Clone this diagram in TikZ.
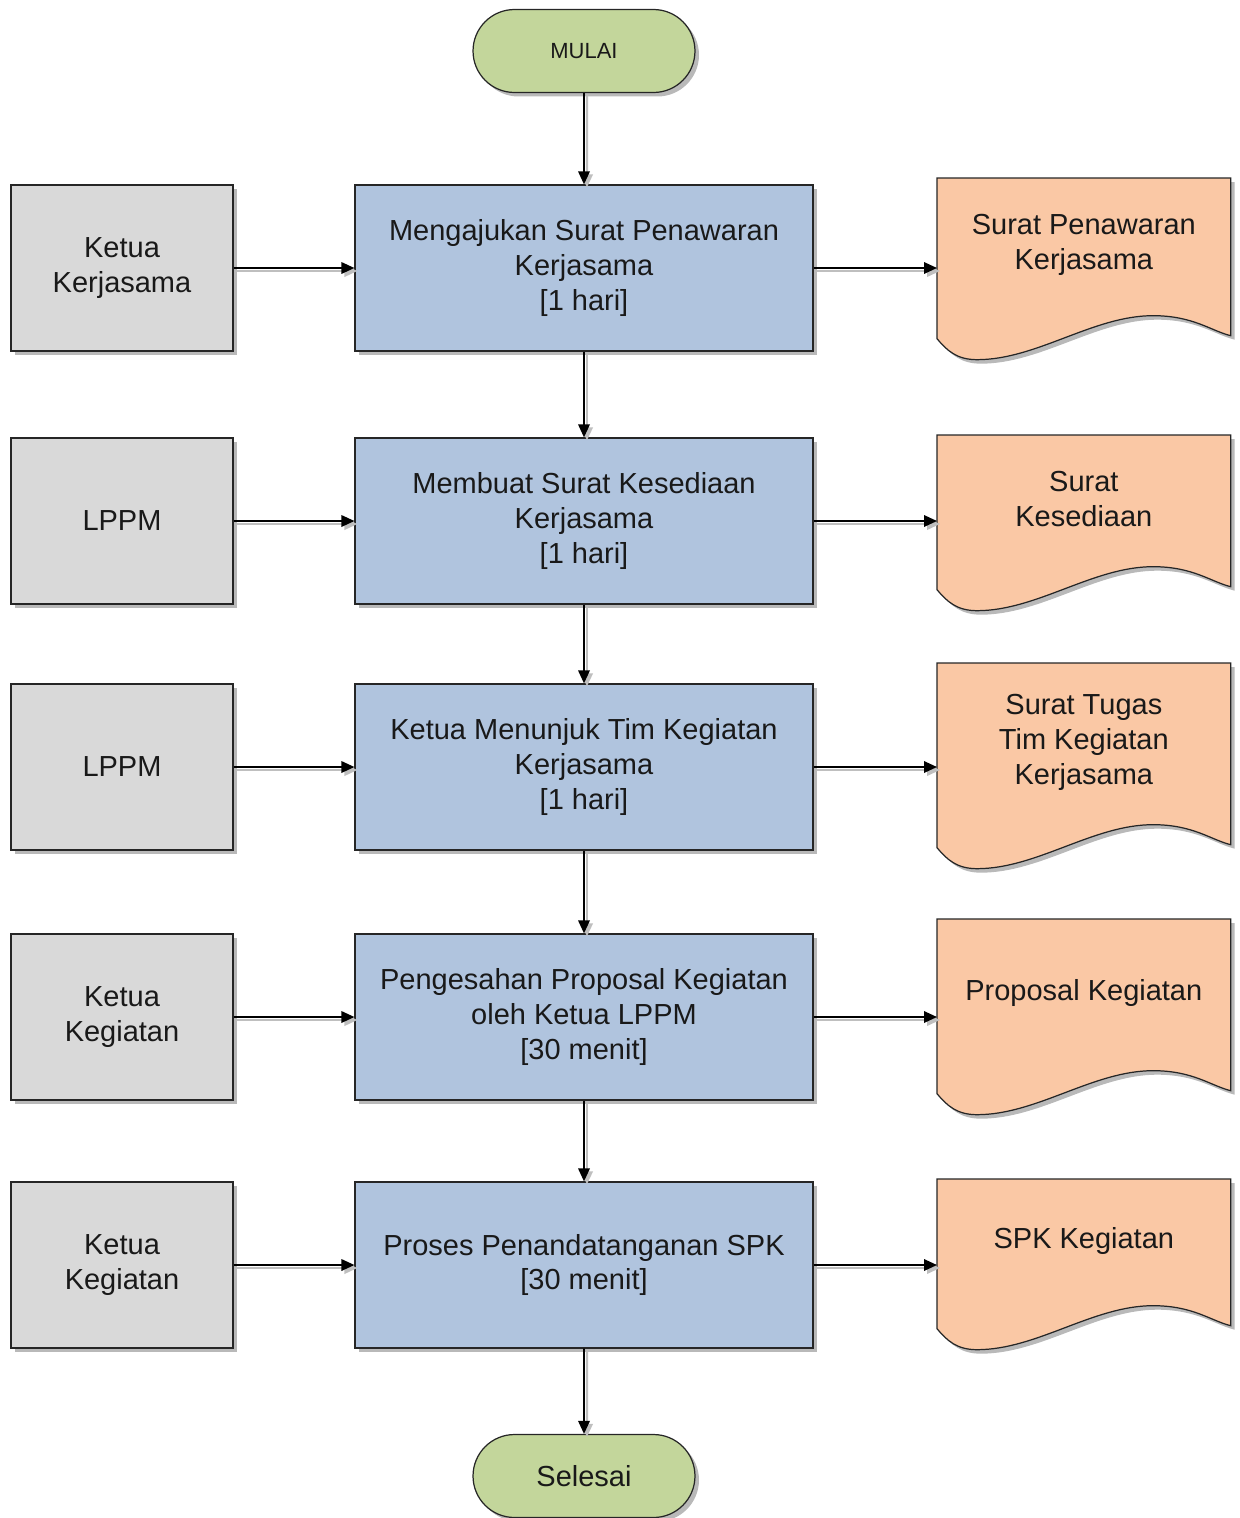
\documentclass[tikz,border=0pt]{standalone}
\usepackage{fontspec}
\setmainfont{Liberation Sans}
\usetikzlibrary{arrows.meta,calc,shadows,shapes.misc,backgrounds}

\definecolor{procblue}{RGB}{176,196,222}
\definecolor{srcgray}{RGB}{217,217,217}
\definecolor{docpeach}{RGB}{250,200,165}
\definecolor{termgreen}{RGB}{195,214,155}

\tikzset{
  boxshadow/.style={drop shadow={shadow xshift=0.08cm,shadow yshift=-0.08cm,fill=black!55,opacity=0.5}},
  box/.style={draw=black!85, line width=0.7pt, boxshadow, minimum height=3.32cm, align=center,
    inner sep=0pt, font=\fontsize{16.5}{19.9}\selectfont, text=black!90},
  procbox/.style={box, fill=procblue, minimum width=9.16cm},
  srcbox/.style={box, fill=srcgray, minimum width=4.44cm},
  term/.style={box, fill=termgreen, rounded rectangle, minimum width=4.44cm, minimum height=1.66cm},
  doctext/.style={anchor=north west, minimum width=5.86cm, align=center, inner sep=0pt,
    font=\fontsize{16.5}{19.9}\selectfont, text=black!90},
  docline/.style={draw=black!85, line width=0.7pt, fill=docpeach, boxshadow},
  flow/.style={-{Triangle[length=0.26cm,width=0.23cm]}, line width=1pt,
    preaction={draw=black!25, line width=1.3pt, transform canvas={xshift=1.7pt,yshift=-1.7pt}}}
}

% document shape drawn round a text node
\newcommand{\docoutline}[1]{%
  \path[docline] (#1.north west) -- (#1.north east) -- ($(#1.south east)+(0,23)$)
    .. controls +(-20,-5) and +(40,0) .. ($(#1.south west)+(216,3)$)
    .. controls +(-60,0) and +(60,0) .. ($(#1.south west)+(40,47)$)
    .. controls +(-20,0) and +(10,12) .. ($(#1.south west)+(0,26)$) -- cycle;}

\begin{document}
\begin{tikzpicture}[x=0.02cm, y=-0.02cm]
\useasboundingbox (0,0) rectangle (1240,1518);
\node[term, font=\fontsize{12.5}{15}\selectfont] (start) at (584,51) {MULAI};
\node[term] (finish) at (584,1476) {Selesai};

\node[srcbox] (src1) at (122,268) {Ketua\\Kerjasama};
\node[srcbox] (src2) at (122,521) {LPPM};
\node[srcbox] (src3) at (122,767) {LPPM};
\node[srcbox] (src4) at (122,1017) {Ketua\\Kegiatan};
\node[srcbox] (src5) at (122,1265) {Ketua\\Kegiatan};

\node[procbox] (p1) at (584,268) {Mengajukan Surat Penawaran\\Kerjasama\\{[1 hari]}};
\node[procbox] (p2) at (584,521) {Membuat Surat Kesediaan\\Kerjasama\\{[1 hari]}};
\node[procbox] (p3) at (584,767) {Ketua Menunjuk Tim Kegiatan\\Kerjasama\\{[1 hari]}};
\node[procbox] (p4) at (584,1017) {Pengesahan Proposal Kegiatan\\oleh Ketua LPPM\\{[30 menit]}};
\node[procbox] (p5) at (584,1265) {Proses Penandatanganan SPK\\{[30 menit]}};

\node[doctext, minimum height=2.68cm] (doc1) at (937,178) {Surat Penawaran\\Kerjasama};
\node[doctext, minimum height=2.56cm] (doc2) at (937,435) {Surat\\Kesediaan};
\node[doctext, minimum height=3.16cm] (doc3) at (937,663) {Surat Tugas\\Tim Kegiatan\\Kerjasama};
\node[doctext, minimum height=2.96cm] (doc4) at (937,919) {Proposal Kegiatan};
\node[doctext, minimum height=2.46cm] (doc5) at (937,1179) {SPK Kegiatan};

\begin{scope}[on background layer]
\foreach \i in {1,...,5} \docoutline{doc\i};
\end{scope}

\draw[flow] (start) -- (p1);
\foreach \i/\j in {1/2,2/3,3/4,4/5} \draw[flow] (p\i) -- (p\j);
\draw[flow] (p5) -- (finish);
\foreach \i in {1,...,5} {
  \draw[flow] (src\i) -- (p\i);
  \draw[flow] (p\i.east) -- (p\i.east -| doc\i.west);
}
\end{tikzpicture}
\end{document}
